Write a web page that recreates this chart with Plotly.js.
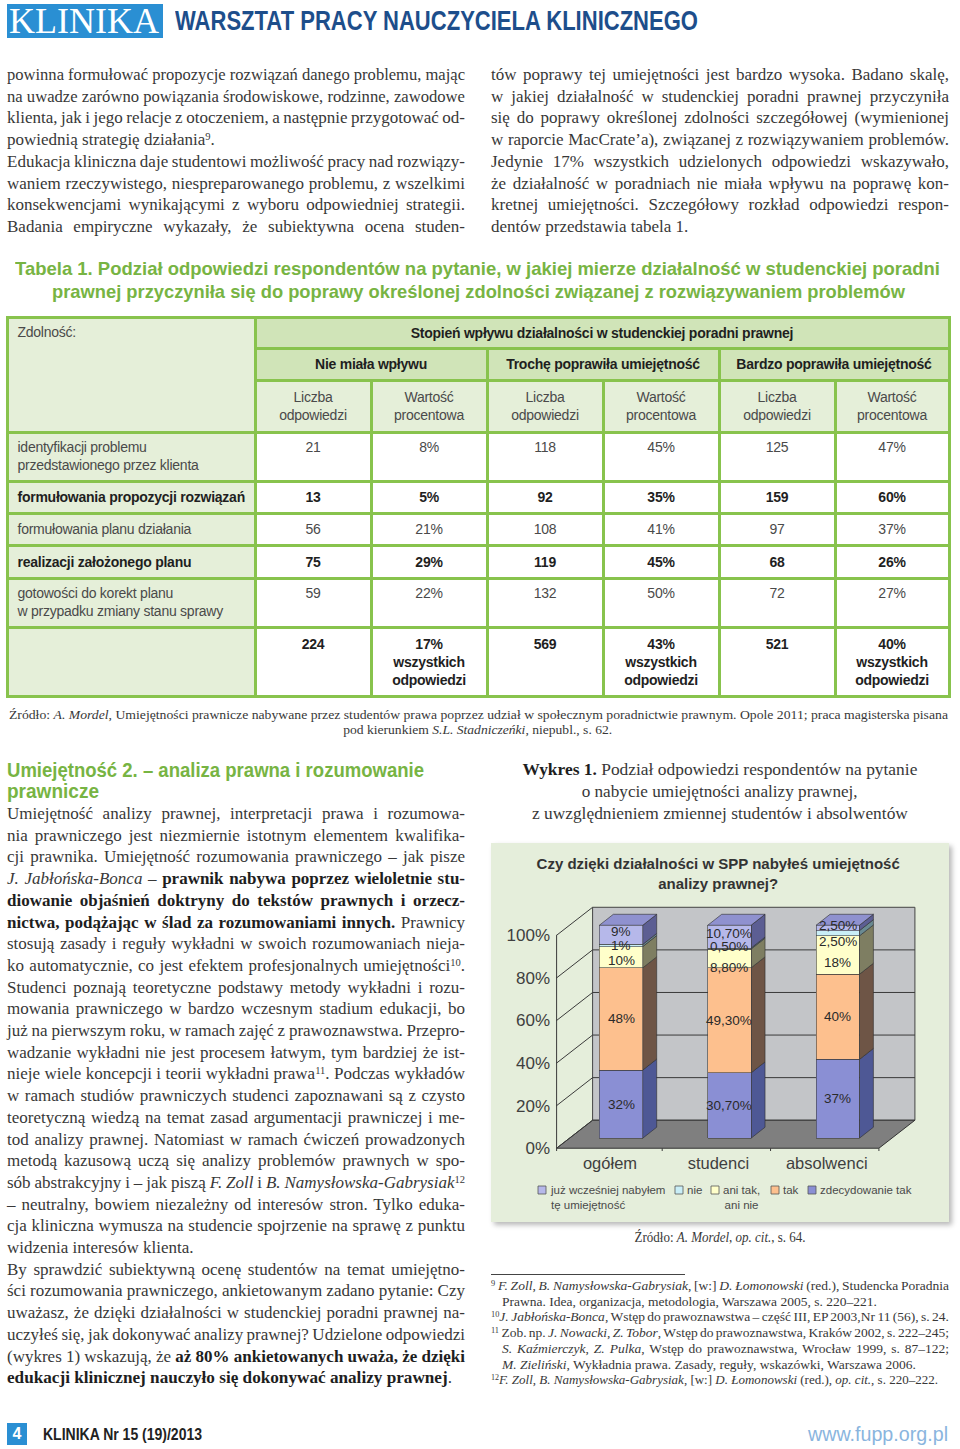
<!DOCTYPE html>
<html lang="pl">
<head>
<meta charset="utf-8">
<script src="https://cdn.plot.ly/plotly-3.0.1.min.js"></script>
<style>
html,body{margin:0;padding:0;background:#fff}
#page{position:relative;width:960px;height:1449px;overflow:hidden;background:#fff}
.ln{position:absolute;white-space:nowrap}
.ln>span{display:inline-block;white-space:nowrap}
.serif{font-family:'Liberation Serif','Times New Roman',serif;color:#383838}
.sans{font-family:'Liberation Sans',Arial,sans-serif}
.narrow{font-family:'Liberation Sans Narrow','Liberation Sans',Arial,sans-serif}
sup{font-size:0.62em;vertical-align:0.5em;line-height:0}
.serif b{color:#1e1e1e}
.cell{position:absolute;display:flex;box-sizing:border-box;font-family:'Liberation Sans',Arial,sans-serif;font-size:14px;line-height:18px;color:#4a4a4a;letter-spacing:-0.25px}
#chart{position:absolute;left:491px;top:843px;width:458px;height:379px;box-shadow:3px 3px 5px rgba(0,0,0,0.28)}
</style>
</head>
<body>
<div id="page">
  <div id="chart"></div>
</div>
<script>
// ---------------- DATA ----------------
const categories = ['ogółem', 'studenci', 'absolwenci'];
const seriesNames = ['zdecydowanie tak', 'tak', 'ani tak, ani nie', 'nie', 'już wcześniej nabyłem tę umiejętność'];
const legendLabels = ['już wcześniej nabyłem<br>tę umiejętność', 'nie', 'ani tak,<br>ani nie', 'tak', 'zdecydowanie tak'];
const valZdecydowanieTak = [32, 30.7, 37];
const valTak = [48, 49.3, 40];
const valAniTakAniNie = [10, 8.8, 18];
const valNie = [1, 0.5, 2.5];
const valJuzNabylem = [9, 10.7, 2.5];
const yTickVals = [0, 20, 40, 60, 80, 100];
const yTickLabels = ['0%', '20%', '40%', '60%', '80%', '100%'];

// table data
const skills = ['identyfikacji problemu<br>przedstawionego przez klienta', 'formułowania propozycji rozwiązań',
  'formułowania planu działania', 'realizacji założonego planu', 'gotowości do korekt planu<br>w przypadku zmiany stanu sprawy'];
const impactGroups = ['Nie miała wpływu', 'Trochę poprawiła umiejętność', 'Bardzo poprawiła umiejętność'];
const nieCount = [21, 13, 56, 75, 59];
const niePct = [8, 5, 21, 29, 22];
const trochCount = [118, 92, 108, 119, 132];
const trochPct = [45, 35, 41, 45, 50];
const bardzoCount = [125, 159, 97, 68, 72];
const bardzoPct = [47, 60, 37, 26, 27];
const totalCount = [224, 569, 521];
const totalPct = [17, 43, 40];

// ---------------- TEXT HELPERS ----------------
const page = document.getElementById('page');
const jobs = [];
function L(o) {
  const d = document.createElement('div');
  d.className = 'ln ' + (o.cls || 'serif');
  const h = o.h || 22;
  d.style.left = o.x + 'px'; d.style.top = (o.y - h / 2) + 'px';
  d.style.width = o.w + 'px'; d.style.height = h + 'px'; d.style.lineHeight = h + 'px';
  d.style.fontSize = (o.fs || 17) + 'px';
  if (o.color) d.style.color = o.color;
  if (o.weight) d.style.fontWeight = o.weight;
  if (o.mode === 'c' || o.mode === 'cf') d.style.textAlign = 'center';
  const s = document.createElement('span');
  s.innerHTML = o.html;
  d.appendChild(s); page.appendChild(d);
  jobs.push({ s, o });
}
function runJobs() {
  jobs.forEach(({ s, o }) => {
    const nat = s.getBoundingClientRect().width;
    const tw = o.tw || o.w;
    if (o.mode === 'j') {
      const n = (s.textContent.match(/ /g) || []).length;
      const ws = n ? (tw - nat) / n : 0;
      if (ws > -1.2) s.style.wordSpacing = ws + 'px';
      else { s.style.transform = `scaleX(${tw / nat})`; s.style.transformOrigin = '0 50%'; }
    } else if (o.mode === 'f' || o.mode === 'cf') {
      s.style.transform = `scaleX(${tw / nat})`;
      s.style.transformOrigin = o.mode === 'cf' ? '50% 50%' : '0 50%';
    } else if (nat > o.w) {
      s.style.transform = `scaleX(${o.w / nat})`;
      s.style.transformOrigin = o.mode === 'c' ? '50% 50%' : '0 50%';
    }
  });
}

// ---------------- HEADER ----------------
(function () {
  const box = document.createElement('div');
  box.style.cssText = 'position:absolute;left:7px;top:4px;width:156px;height:34px;background:#2a8fd3';
  page.appendChild(box);
  L({ x: 9, y: 21, w: 152, h: 34, html: 'KLINIKA', mode: 'f', tw: 150, fs: 36, color: '#fff', cls: 'serif' });
  L({ x: 175, y: 21, w: 600, h: 30, html: 'WARSZTAT PRACY NAUCZYCIELA KLINICZNEGO', mode: 'f', tw: 523, fs: 27, weight: 'bold', color: '#1d4e8b', cls: 'narrow' });
})();

// ---------------- TOP BODY TEXT ----------------
const topLeft = [
  ['powinna formułować propozycje rozwiązań danego problemu, mając', 'j'],
  ['na uwadze zarówno powiązania środowiskowe, rodzinne, zawodowe', 'j'],
  ['klienta, jak i jego relacje z otoczeniem, a następnie przygotować od-', 'j'],
  ['powiednią strategię działania<sup>9</sup>.', 'l'],
  ['Edukacja kliniczna daje studentowi możliwość pracy nad rozwiązy-', 'j'],
  ['waniem rzeczywistego, niespreparowanego problemu, z wszelkimi', 'j'],
  ['konsekwencjami wynikającymi z wyboru odpowiedniej strategii.', 'j'],
  ['Badania empiryczne wykazały, że subiektywna ocena studen-', 'j']
];
const topRight = [
  ['tów poprawy tej umiejętności jest bardzo wysoka. Badano skalę,', 'j'],
  ['w jakiej działalność w studenckiej poradni prawnej przyczyniła', 'j'],
  ['się do poprawy określonej zdolności szczegółowej (wymienionej', 'j'],
  ['w raporcie MacCrate’a), związanej z rozwiązywaniem problemów.', 'j'],
  ['Jedynie 17% wszystkich udzielonych odpowiedzi wskazywało,', 'j'],
  ['że działalność w poradniach nie miała wpływu na poprawę kon-', 'j'],
  ['kretnej umiejętności. Szczegółowy rozkład odpowiedzi respon-', 'j'],
  ['dentów przedstawia tabela 1.', 'l']
];
topLeft.forEach((t, i) => L({ x: 7, y: 75 + i * 21.7, w: 458, html: t[0], mode: t[1] }));
topRight.forEach((t, i) => L({ x: 491, y: 75 + i * 21.7, w: 458, html: t[0], mode: t[1] }));

// ---------------- TABLE ----------------
L({ x: 15, y: 269, w: 940, h: 24, html: 'Tabela 1. Podział odpowiedzi respondentów na pytanie, w jakiej mierze działalność w studenckiej poradni', mode: 'f', tw: 925, fs: 19, weight: 'bold', color: '#77b443', cls: 'narrow' });
L({ x: 52, y: 292, w: 900, h: 24, html: 'prawnej przyczyniła się do poprawy określonej zdolności związanej z rozwiązywaniem problemów', mode: 'f', tw: 853, fs: 19, weight: 'bold', color: '#77b443', cls: 'narrow' });

const TX = [7, 255, 371, 487, 603, 719, 835, 949];
const TY = [317, 348, 380, 432, 481, 513, 545, 578, 627, 696];
const GREEN = '#88c34d', DARK = '#d0e4b8', LIGHT = '#e5efd9';
(function () {
  const c = document.createElement('div');
  c.style.cssText = `position:absolute;left:${TX[0] - 1.5}px;top:${TY[0] - 1.5}px;width:${TX[7] - TX[0] + 3}px;height:${TY[9] - TY[0] + 3}px;background:${GREEN}`;
  page.appendChild(c);
})();
function cell(c0, c1, r0, r1, html, st) {
  st = st || {};
  const d = document.createElement('div');
  d.className = 'cell';
  d.style.left = (TX[c0] + 1.5) + 'px'; d.style.top = (TY[r0] + 1.5) + 'px';
  d.style.width = (TX[c1] - TX[c0] - 3) + 'px'; d.style.height = (TY[r1] - TY[r0] - 3) + 'px';
  d.style.background = st.bg || '#fff';
  d.style.alignItems = st.top ? 'flex-start' : 'center';
  d.style.justifyContent = st.left ? 'flex-start' : 'center';
  d.style.paddingTop = (st.top || 0) + 'px';
  d.style.paddingLeft = st.left ? '9px' : '0';
  d.style.textAlign = st.left ? 'left' : 'center';
  if (st.bold) { d.style.fontWeight = 'bold'; d.style.color = '#1f1f1f'; }
  d.innerHTML = '<div>' + html + '</div>';
  page.appendChild(d);
}
cell(0, 1, 0, 3, 'Zdolność:', { bg: LIGHT, left: true, top: 4 });
cell(1, 7, 0, 1, 'Stopień wpływu działalności w studenckiej poradni prawnej', { bg: DARK, bold: true });
impactGroups.forEach((g, k) => cell(1 + 2 * k, 3 + 2 * k, 1, 2, g, { bg: DARK, bold: true }));
for (let k = 0; k < 3; k++) {
  cell(1 + 2 * k, 2 + 2 * k, 2, 3, 'Liczba<br>odpowiedzi', { bg: LIGHT });
  cell(2 + 2 * k, 3 + 2 * k, 2, 3, 'Wartość<br>procentowa', { bg: LIGHT });
}
const boldRow = [false, true, false, true, false];
const tallRow = [true, false, false, false, true];
skills.forEach((s, i) => {
  const st = { bold: boldRow[i], top: tallRow[i] ? 4 : 0 };
  cell(0, 1, 3 + i, 4 + i, s, Object.assign({ bg: LIGHT, left: true }, st));
  const vals = [nieCount[i], niePct[i] + '%', trochCount[i], trochPct[i] + '%', bardzoCount[i], bardzoPct[i] + '%'];
  vals.forEach((v, j) => cell(1 + j, 2 + j, 3 + i, 4 + i, String(v), st));
});
cell(0, 1, 8, 9, '', { bg: LIGHT });
totalCount.forEach((v, k) => {
  cell(1 + 2 * k, 2 + 2 * k, 8, 9, String(v), { bold: true, top: 6 });
  cell(2 + 2 * k, 3 + 2 * k, 8, 9, totalPct[k] + '%<br>wszystkich<br>odpowiedzi', { bold: true, top: 6 });
});

L({ x: 7, y: 715, w: 942, h: 16, fs: 13.5, html: 'Źródło: <i>A. Mordel</i>, Umiejętności prawnicze nabywane przez studentów prawa poprzez udział w społecznym poradnictwie prawnym. Opole 2011; praca magisterska pisana', mode: 'cf', tw: 939 });
L({ x: 7, y: 730, w: 942, h: 16, fs: 13.5, html: 'pod kierunkiem <i>S.L. Stadniczeńki</i>, niepubl., s. 62.', mode: 'cf', tw: 269 });

// ---------------- LOWER LEFT TEXT ----------------
L({ x: 7, y: 770, w: 470, h: 24, html: 'Umiejętność 2. – analiza prawna i rozumowanie', mode: 'f', tw: 417, fs: 20, weight: 'bold', color: '#77b443', cls: 'sans' });
L({ x: 7, y: 791, w: 200, h: 24, html: 'prawnicze', mode: 'f', tw: 92, fs: 20, weight: 'bold', color: '#77b443', cls: 'sans' });
const lowLeft = [
  ['Umiejętność analizy prawnej, interpretacji prawa i rozumowa-', 'j'],
  ['nia prawniczego jest niezmiernie istotnym elementem kwalifika-', 'j'],
  ['cji prawnika. Umiejętność rozumowania prawniczego – jak pisze', 'j'],
  ['<i>J. Jabłońska-Bonca</i> – <b>prawnik nabywa poprzez wieloletnie stu-</b>', 'j'],
  ['<b>diowanie objaśnień doktryny do tekstów prawnych i orzecz-</b>', 'j'],
  ['<b>nictwa, podążając w ślad za rozumowaniami innych.</b> Prawnicy', 'j'],
  ['stosują zasady i reguły wykładni w swoich rozumowaniach nieja-', 'j'],
  ['ko automatycznie, co jest efektem profesjonalnych umiejętności<sup>10</sup>.', 'j'],
  ['Studenci poznają teoretyczne podstawy metody wykładni i rozu-', 'j'],
  ['mowania prawniczego w bardzo wczesnym stadium edukacji, bo', 'j'],
  ['już na pierwszym roku, w ramach zajęć z prawoznawstwa. Przepro-', 'j'],
  ['wadzanie wykładni nie jest procesem łatwym, tym bardziej że ist-', 'j'],
  ['nieje wiele koncepcji i teorii wykładni prawa<sup>11</sup>. Podczas wykładów', 'j'],
  ['w ramach studiów prawniczych studenci zapoznawani są z czysto', 'j'],
  ['teoretyczną wiedzą na temat zasad argumentacji prawniczej i me-', 'j'],
  ['tod analizy prawnej. Natomiast w ramach ćwiczeń prowadzonych', 'j'],
  ['metodą kazusową uczą się analizy problemów prawnych w spo-', 'j'],
  ['sób abstrakcyjny i – jak piszą <i>F. Zoll</i> i <i>B. Namysłowska-Gabrysiak</i><sup>12</sup>', 'j'],
  ['– neutralny, bowiem niezależny od interesów stron. Tylko eduka-', 'j'],
  ['cja kliniczna wymusza na studencie spojrzenie na sprawę z punktu', 'j'],
  ['widzenia interesów klienta.', 'l'],
  ['By sprawdzić subiektywną ocenę studentów na temat umiejętno-', 'j'],
  ['ści rozumowania prawniczego, ankietowanym zadano pytanie: Czy', 'j'],
  ['uważasz, że dzięki działalności w studenckiej poradni prawnej na-', 'j'],
  ['uczyłeś się, jak dokonywać analizy prawnej? Udzielone odpowiedzi', 'j'],
  ['(wykres 1) wskazują, że <b>aż 80% ankietowanych uważa, że dzięki</b>', 'j'],
  ['<b>edukacji klinicznej nauczyło się dokonywać analizy prawnej</b>.', 'f']
];
lowLeft.forEach((t, i) => L({ x: 7, y: 814 + i * 21.7, w: 458, html: t[0], mode: t[1], tw: t[1] === 'f' ? 445 : 458 }));

// ---------------- RIGHT COLUMN: chart caption, source, footnotes ----------------
L({ x: 491, y: 770, w: 458, html: '<b>Wykres 1.</b> Podział odpowiedzi respondentów na pytanie', mode: 'cf', tw: 395 });
L({ x: 491, y: 792, w: 458, html: 'o nabycie umiejętności analizy prawnej,', mode: 'cf', tw: 276 });
L({ x: 491, y: 814, w: 458, html: 'z uwzględnieniem zmiennej studentów i absolwentów', mode: 'cf', tw: 376 });
L({ x: 491, y: 1238, w: 458, h: 18, fs: 14, html: 'Źródło: <i>A. Mordel</i>, <i>op. cit.</i>, s. 64.', mode: 'cf', tw: 171 });
(function () {
  const r = document.createElement('div');
  r.style.cssText = 'position:absolute;left:491px;top:1274px;width:194px;height:1px;background:#444';
  page.appendChild(r);
})();
const notes = [
  [491, 458, '<sup>9</sup> <i>F. Zoll</i>, <i>B. Namysłowska-Gabrysiak</i>, [w:] <i>D. Łomonowski</i> (red.), Studencka Poradnia', 'j'],
  [502, 447, 'Prawna. Idea, organizacja, metodologia, Warszawa 2005, s. 220–221.', 'l'],
  [491, 458, '<sup>10</sup><i>J. Jabłońska-Bonca</i>, Wstęp do prawoznawstwa – część III, EP 2003,Nr 11 (56), s. 24.', 'j'],
  [491, 458, '<sup>11</sup> Zob. np. <i>J. Nowacki</i>, <i>Z. Tobor</i>, Wstęp do prawoznawstwa, Kraków 2002, s. 222–245;', 'j'],
  [502, 447, '<i>S. Kaźmierczyk</i>, <i>Z. Pulka</i>, Wstęp do prawoznawstwa, Wrocław 1999, s. 87–122;', 'j'],
  [502, 447, '<i>M. Zieliński</i>, Wykładnia prawa. Zasady, reguły, wskazówki, Warszawa 2006.', 'l'],
  [491, 447, '<sup>12</sup><i>F. Zoll</i>, <i>B. Namysłowska-Gabrysiak</i>, [w:] <i>D. Łomonowski</i> (red.), <i>op. cit.</i>, s. 220–222.', 'j']
];
notes.forEach((n, i) => L({ x: n[0], y: 1286 + i * 15.7, w: n[1], h: 16, fs: 13.5, html: n[2], mode: n[3] }));

// ---------------- FOOTER ----------------
(function () {
  const sq = document.createElement('div');
  sq.style.cssText = 'position:absolute;left:7px;top:1423px;width:20px;height:22px;background:#2a8fd3;color:#fff;font:bold 16px "Liberation Sans",Arial,sans-serif;line-height:22px;text-align:center';
  sq.textContent = '4';
  page.appendChild(sq);
})();
L({ x: 43, y: 1435, w: 220, h: 20, html: 'KLINIKA Nr 15 (19)/2013', mode: 'f', tw: 159, fs: 16, weight: 'bold', color: '#222', cls: 'narrow' });
L({ x: 808, y: 1434, w: 200, h: 24, html: 'www.fupp.org.pl', mode: 'f', tw: 140, fs: 20, color: '#8ab5de', cls: 'narrow' });

// ---------------- CHART ----------------
const W = 458, H = 379, M = { l: 65, r: 30, t: 61, b: 71 };
const XR = [-0.6, 2.75], YR = [-6, 110];
const pw = W - M.l - M.r, ph = H - M.t - M.b;
const pxX = pw / (XR[1] - XR[0]), pxY = ph / (YR[1] - YR[0]);
const ux = p => p / pxX, uy = p => p / pxY;
const BW = 0.4;
const FRONT = { dx: ux(-13), dy: uy(-10) };   // axis plane relative to bar fronts
const DEPTH = { dx: ux(36), dy: uy(28) };     // axis plane -> back wall
const BARD = { dx: ux(14), dy: uy(11) };      // bar depth
const xLf = XR[0] + ux(0.6);
const xRf = categories.length - 0.5 + FRONT.dx;
const fy = FRONT.dy;

const seriesValues = [valZdecydowanieTak, valTak, valAniTakAniNie, valNie, valJuzNabylem];
const frontColors = ['#8a8fd4', '#fdc08e', '#ffffca', '#c9eef7', '#b6b8ea'];
const sideColors = ['#4e5895', '#6e5546', '#7e7e62', '#6a8a92', '#5c5e93'];
const topColor = '#8f91cf';
// pixel nudges of the value labels (per category, per series) as in the original figure
const labelShiftPx = [[0, 0, -3, 0, 3], [0, 0, -9, 2, 3], [0, 0, -7, -8, 2]];
const xPos = categories.map((_, i) => i);
const fmtPct = v => Number.isInteger(v) ? v + '%' : v.toFixed(2).replace('.', ',') + '%';
const FONT = 'Liberation Sans, Arial, sans-serif';

const traces = seriesValues.map((vals, k) => ({
  type: 'bar', name: seriesNames[k], x: xPos, y: vals, width: BW,
  marker: { color: frontColors[k], line: { color: '#3d3d3d', width: 0.6 } },
  hoverinfo: 'skip', showlegend: false
}));

const shapes = [];
const annotations = [];
const line = (x0, y0, x1, y1, c, w) => shapes.push({ type: 'line', xref: 'x', yref: 'y', x0, y0, x1, y1, line: { color: c || '#333', width: w || 1 }, layer: 'below' });
const poly = (pts, fill, lc, lw) => shapes.push({
  type: 'path', xref: 'x', yref: 'y', layer: 'below', fillcolor: fill,
  line: { color: lc || '#333', width: lw == null ? 0.8 : lw },
  path: 'M ' + pts.map(p => p[0] + ',' + p[1]).join(' L ') + ' Z'
});
// back wall
poly([[xLf + DEPTH.dx, fy + DEPTH.dy], [xRf + DEPTH.dx, fy + DEPTH.dy], [xRf + DEPTH.dx, 100 + fy + DEPTH.dy], [xLf + DEPTH.dx, 100 + fy + DEPTH.dy]], '#c3c5c8', '#444', 1);
// floor
poly([[xLf, fy], [xRf, fy], [xRf + DEPTH.dx, fy + DEPTH.dy], [xLf + DEPTH.dx, fy + DEPTH.dy]], '#7f7f7f', '#333', 1);
// grid lines on back wall + left wall diagonals + front axis ticks
yTickVals.forEach(v => {
  if (v > 0 && v < 100) line(xLf + DEPTH.dx, v + fy + DEPTH.dy, xRf + DEPTH.dx, v + fy + DEPTH.dy, '#3a3a3a', 1);
  line(xLf, v + fy, xLf + DEPTH.dx, v + fy + DEPTH.dy, '#3a3a3a', 1);
  line(xLf - ux(5), v + fy, xLf, v + fy, '#3a3a3a', 1);
});
line(xLf, fy, xLf, 100 + fy, '#3a3a3a', 1);
// x ticks on the front edge
[xLf, 0.5 + FRONT.dx, 1.5 + FRONT.dx, xRf].forEach(b => line(b, fy, b, fy - uy(6), '#3a3a3a', 1));
// bar side & top faces + value labels
xPos.forEach(i => {
  let base = 0;
  const xr = i + BW / 2;
  seriesValues.forEach((vals, k) => {
    const t = base + vals[i];
    poly([[xr, base], [xr + BARD.dx, base + BARD.dy], [xr + BARD.dx, t + BARD.dy], [xr, t]], sideColors[k], '#2e2e2e', 0.6);
    annotations.push({
      xref: 'x', yref: 'y', x: i, y: (base + t) / 2, yshift: labelShiftPx[i][k], showarrow: false,
      text: fmtPct(vals[i]), font: { family: FONT, size: 13.5, color: '#2a2a2a' }, borderpad: 0
    });
    base = t;
  });
  const xl = i - BW / 2;
  poly([[xl, base], [xr, base], [xr + BARD.dx, base + BARD.dy], [xl + BARD.dx, base + BARD.dy]], topColor, '#2e2e2e', 0.6);
});

// custom legend (annotations + squares), order top-of-stack first
const legendX = [538, 675, 711, 771, 808];
const legendOrder = [4, 3, 2, 1, 0];
const paperX = px => (px - (491 + M.l)) / pw;
const paperY = py => ((843 + M.t + ph) - py) / ph;
legendOrder.forEach((k, j) => {
  const sx = legendX[j], sy = 1190;
  shapes.push({ type: 'rect', xref: 'paper', yref: 'paper', x0: paperX(sx), x1: paperX(sx + 8), y0: paperY(sy + 4), y1: paperY(sy - 4), fillcolor: frontColors[k], line: { color: '#555', width: 0.8 } });
  annotations.push({ xref: 'paper', yref: 'paper', x: paperX(sx + 10), y: paperY(sy - 8), xanchor: 'left', yanchor: 'top', align: k === 2 ? 'center' : 'left', showarrow: false, text: legendLabels[j], font: { family: FONT, size: 11.5, color: '#4a4a4a' } });
});

const layout = {
  width: W, height: H, margin: M,
  paper_bgcolor: '#e5eedb', plot_bgcolor: 'rgba(0,0,0,0)',
  barmode: 'stack', showlegend: false,
  title: {
    text: '<b>Czy dzięki działalności w SPP nabyłeś umiejętność<br>analizy prawnej?</b>',
    font: { family: FONT, size: 15, color: '#333' },
    x: 0.496, xref: 'container', xanchor: 'center', y: 1 - 26 / H, yref: 'container', yanchor: 'top'
  },
  xaxis: {
    range: XR, tickvals: xPos, ticktext: categories, showgrid: false, zeroline: false, showline: false, ticks: '',
    tickfont: { family: FONT, size: 16.5, color: '#3f3f3f' }, ticklabelshift: -11, fixedrange: true
  },
  yaxis: {
    range: YR, tickvals: yTickVals, ticktext: yTickLabels, showgrid: false, zeroline: false, showline: false, ticks: '',
    tickfont: { family: FONT, size: 17, color: '#3f3f3f' }, ticklabelshift: 10, ticklabelstandoff: 5, fixedrange: true
  },
  shapes, annotations
};
Plotly.newPlot('chart', traces, layout, { displayModeBar: false, staticPlot: true });

if (document.fonts && document.fonts.ready) document.fonts.ready.then(runJobs); else runJobs();
</script>
</body>
</html>
